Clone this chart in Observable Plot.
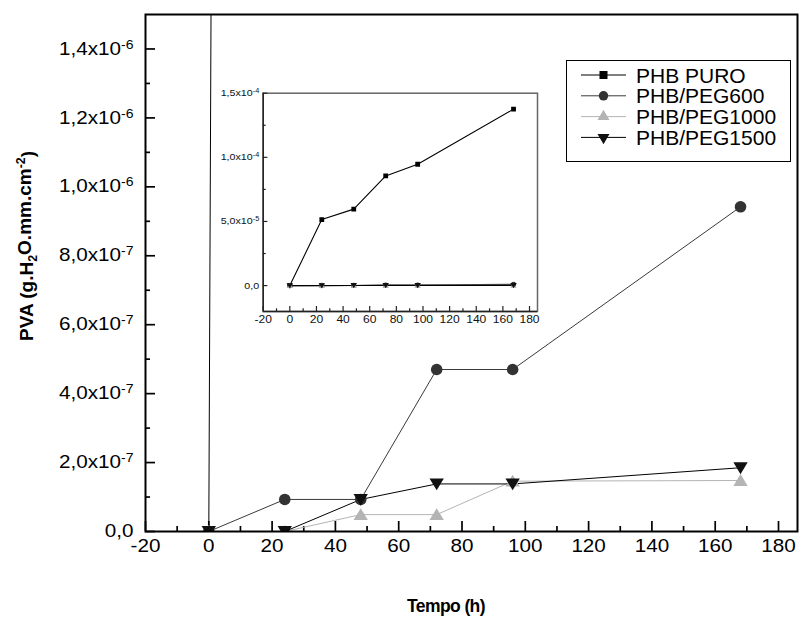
<!DOCTYPE html>
<html><head><meta charset="utf-8">
<script src="https://cdn.jsdelivr.net/npm/d3@7"></script>
<script src="https://cdn.jsdelivr.net/npm/@observablehq/plot@0.6"></script>
<style>
html,body{margin:0;padding:0;background:#fff;}
#chart{position:relative;width:800px;height:626px;font-family:"Liberation Sans",Arial,sans-serif;}
#chart svg{position:absolute;overflow:visible;}
</style></head><body><div id="chart"></div>
<script>
// ---- data ----
const tempo = [0, 24, 48, 72, 96, 168];
const series = ["PHB PURO", "PHB/PEG600", "PHB/PEG1000", "PHB/PEG1500"];
const phbPuro = [0, 5.15e-5, 5.96e-5, 8.55e-5, 9.46e-5, 1.376e-4];
const peg600  = [0, 9.3e-8, 9.3e-8, 4.70e-7, 4.70e-7, 9.42e-7];
const peg1000 = [0, 0, 4.9e-8, 4.9e-8, 1.46e-7, 1.48e-7];
const peg1500 = [0, 0, 9.3e-8, 1.38e-7, 1.38e-7, 1.85e-7];
const xTicks = [-20, 0, 20, 40, 60, 80, 100, 120, 140, 160, 180];
const xMinorTicks = [-10, 10, 30, 50, 70, 90, 110, 130, 150, 170];
const yTicks = [0, 2e-7, 4e-7, 6e-7, 8e-7, 1e-6, 1.2e-6, 1.4e-6];
const yMinorTicks = [1e-7, 3e-7, 5e-7, 7e-7, 9e-7, 1.1e-6, 1.3e-6];
const insetYTicks = [0, 5e-5, 1e-4, 1.5e-4];
const insetYMinorTicks = [2.5e-5, 7.5e-5, 1.25e-4];
const xDomain = [-20, 186];
const yDomain = [0, 1.5e-6];
const insetYDomain = [-2.02e-5, 1.5e-4];

const values = [phbPuro, peg600, peg1000, peg1500];
const rows = series.flatMap((s, i) => tempo.map((t, j) => ({serie: s, t, v: values[i][j]})));
const of = s => rows.filter(d => d.serie === s);

const colors = {"PHB PURO": "#000", "PHB/PEG600": "#333", "PHB/PEG1000": "#b4b4b4", "PHB/PEG1500": "#111"};
const lineColors = {"PHB PURO": "#000", "PHB/PEG600": "#3a3a3a", "PHB/PEG1000": "#b4b4b4", "PHB/PEG1500": "#000"};

const triUp = {draw(ctx, size) { const r = Math.sqrt(size / Math.PI); const w = 1.12 * r; ctx.moveTo(0, -r); ctx.lineTo(w, 0.85 * r); ctx.lineTo(-w, 0.85 * r); ctx.closePath(); }};
const triDown = {draw(ctx, size) { const r = Math.sqrt(size / Math.PI); const w = 1.12 * r; ctx.moveTo(0, r); ctx.lineTo(w, -0.85 * r); ctx.lineTo(-w, -0.85 * r); ctx.closePath(); }};

function sci(v) {
  if (Math.abs(v) < 1e-20) return "0,0";
  const e = Math.floor(Math.log10(Math.abs(v)) + 1e-9);
  const m = v / Math.pow(10, e);
  return m.toFixed(1).replace(".", ",") + "x10^" + e;
}

const FONT = '"Liberation Sans", Arial, Helvetica, sans-serif';

// ---- main chart ----
const W = 800, H = 626, mt = 14, mr = 3, mb = 95, ml = 145;
const fh = H - mt - mb, fw = W - ml - mr;
function seriesMarks(opt) {
  const m = [];
  const sz = opt.inset ? {sq: 2.7, c: 2.6, t: 2.9} : {sq: 4.5, c: 5.8, t: 6.4};
  for (const s of series) {
    m.push(Plot.line(of(s), {x: "t", y: "v", stroke: lineColors[s], strokeWidth: opt.inset ? 1.1 : 1, clip: true}));
  }
  m.push(Plot.dot(of("PHB PURO"), {x: "t", y: "v", symbol: "square", r: sz.sq, fill: colors["PHB PURO"], clip: true}));
  m.push(Plot.dot(of("PHB/PEG600"), {x: "t", y: "v", symbol: "circle", r: sz.c, fill: colors["PHB/PEG600"], clip: true}));
  m.push(Plot.dot(of("PHB/PEG1000"), {x: "t", y: "v", symbol: triUp, r: sz.t, fill: colors["PHB/PEG1000"], clip: true}));
  m.push(Plot.dot(of("PHB/PEG1500"), {x: "t", y: "v", symbol: triDown, r: sz.t, fill: colors["PHB/PEG1500"], clip: true}));
  return m;
}

const main = Plot.plot({
  width: W, height: H, marginTop: mt, marginRight: mr, marginBottom: mb, marginLeft: ml,
  x: {domain: xDomain}, y: {domain: yDomain},
  style: {fontFamily: FONT, fontSize: "17.5px", color: "#000", background: "transparent"},
  marks: [
    Plot.axisX(xTicks, {tickSize: 0, tickPadding: 8, tickFormat: d => String(d), label: null, fontSize: 17.5}),
    Plot.axisY(yTicks, {tickSize: 0, tickPadding: 12, tickFormat: sci, label: null, fontSize: 17.5}),
    Plot.tickX(xTicks, {x: d => d, insetTop: fh - 10, strokeWidth: 1.7, stroke: "#000"}),
    Plot.tickX(xMinorTicks, {x: d => d, insetTop: fh - 5, strokeWidth: 1.7, stroke: "#000"}),
    Plot.tickY(yTicks, {y: d => d, insetRight: fw - 10, strokeWidth: 1.7, stroke: "#000"}),
    Plot.tickY(yMinorTicks, {y: d => d, insetRight: fw - 5, strokeWidth: 1.7, stroke: "#000"}),
    ...seriesMarks({inset: false}),
    Plot.frame({stroke: "#000", strokeWidth: 2})
  ]
});
main.style.left = "0px"; main.style.top = "0px";
document.getElementById("chart").appendChild(main);

// ---- inset chart ----
const iW = 370, iH = 260, imt = 12.7, imr = 13, imb = 29, iml = 82.7;
const ifh = iH - imt - imb, ifw = iW - iml - imr;
const inset = Plot.plot({
  width: iW, height: iH, marginTop: imt, marginRight: imr, marginBottom: imb, marginLeft: iml,
  x: {domain: xDomain}, y: {domain: insetYDomain},
  style: {fontFamily: FONT, fontSize: "10px", color: "#111", background: "transparent"},
  marks: [
    Plot.frame({stroke: "#666", strokeWidth: 1.5}),
    Plot.ruleX([xDomain[0]], {stroke: "#222", strokeWidth: 1.5}),
    Plot.ruleY([insetYDomain[0]], {stroke: "#222", strokeWidth: 1.5}),
    Plot.axisX(xTicks, {tickSize: 0, tickPadding: 4, tickFormat: d => String(d), label: null, fontSize: 10.5}),
    Plot.axisY(insetYTicks, {tickSize: 0, tickPadding: 4, tickFormat: sci, label: null, fontSize: 9.3}),
    Plot.tickX(xTicks, {x: d => d, insetTop: ifh - 5, strokeWidth: 1.2, stroke: "#222"}),
    Plot.tickX(xMinorTicks, {x: d => d, insetTop: ifh - 2.7, strokeWidth: 1.2, stroke: "#222"}),
    Plot.tickY(insetYTicks, {y: d => d, insetRight: ifw - 4.7, strokeWidth: 1.2, stroke: "#222"}),
    Plot.tickY(insetYMinorTicks, {y: d => d, insetRight: ifw - 3, strokeWidth: 1.2, stroke: "#222"}),
    ...seriesMarks({inset: true})
  ]
});
inset.style.left = "180px"; inset.style.top = "80px";
document.getElementById("chart").appendChild(inset);

// ---- text post-processing: superscripts and horizontal stretch ----
function fixTicks(svg, sx) {
  d3.select(svg).selectAll('g[aria-label$="tick label"] text').each(function() {
    const txt = this.textContent;
    if (txt.includes("^")) {
      const [base, exp] = txt.split("^");
      this.textContent = "";
      const s = d3.select(this);
      s.append("tspan").text(base);
      s.append("tspan").attr("dy", "-0.5em").attr("font-size", "0.68em").text(exp);
    }
    const t = this.getAttribute("transform") || "";
    const x = this.getAttribute("x"), y = this.getAttribute("y");
    let pre = "";
    if ((x != null && !isNaN(+x)) || (y != null && !isNaN(+y))) {
      pre = ` translate(${+x || 0},${+y || 0})`;
      this.setAttribute("x", 0); this.setAttribute("y", 0);
    }
    this.setAttribute("transform", t + pre + ` scale(${sx},1)`);
  });
}
fixTicks(main, 1.18);
fixTicks(inset, 1.15);

// ---- axis titles ----
const ms = d3.select(main);
const yl = ms.append("text")
  .attr("transform", "translate(33,246) rotate(-90)")
  .attr("text-anchor", "middle")
  .attr("font-family", FONT).attr("font-weight", "bold").attr("font-size", 19).attr("fill", "#000");
yl.append("tspan").text("PVA (g.H");
yl.append("tspan").attr("dy", "0.3em").attr("font-size", "0.65em").text("2");
yl.append("tspan").attr("dy", "-0.3em").text("O.mm.cm");
yl.append("tspan").attr("dy", "-0.5em").attr("font-size", "0.65em").text("-2");
yl.append("tspan").attr("dy", "0.5em").text(")");

ms.append("text")
  .attr("x", 446).attr("y", 612)
  .attr("text-anchor", "middle")
  .attr("font-family", FONT).attr("font-weight", "bold").attr("font-size", 17.5).attr("fill", "#000")
  .attr("letter-spacing", "-0.6px")
  .text("Tempo (h)");

// ---- legend ----
const lg = d3.select("#chart").append("svg")
  .attr("width", 800).attr("height", 626)
  .style("left", "0px").style("top", "0px");
lg.append("rect").attr("x", 566.5).attr("y", 60.5).attr("width", 224).attr("height", 101)
  .attr("fill", "#fff").attr("stroke", "#000").attr("stroke-width", 1);
const legSym = {
  "PHB PURO": {type: d3.symbolSquare, size: 64, rot: 0},
  "PHB/PEG600": {type: d3.symbolCircle, size: 70, rot: 0},
  "PHB/PEG1000": {type: d3.symbolTriangle, size: 62, rot: 0},
  "PHB/PEG1500": {type: d3.symbolTriangle, size: 62, rot: 180}
};
series.forEach((s, i) => {
  const cy = 75 + i * 20.8;
  const g = lg.append("g");
  g.append("line").attr("x1", 581).attr("x2", 626).attr("y1", cy).attr("y2", cy)
    .attr("stroke", lineColors[s]).attr("stroke-width", 1);
  g.append("path").attr("d", d3.symbol(legSym[s].type, legSym[s].size)())
    .attr("transform", `translate(603.5,${cy}) rotate(${legSym[s].rot})`)
    .attr("fill", colors[s]);
  g.append("text").attr("x", 636).attr("y", cy + 7.5)
    .attr("font-family", FONT).attr("font-size", 21).attr("fill", "#000").text(s);
});
</script></body></html>
